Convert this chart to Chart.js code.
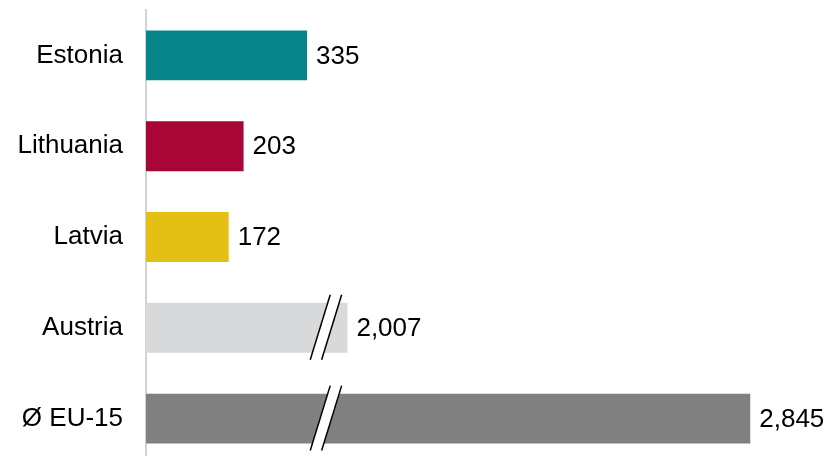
<!DOCTYPE html>
<html>
<head>
<meta charset="utf-8">
<script src="https://cdn.jsdelivr.net/npm/chart.js@4/dist/chart.umd.min.js"></script>
<style>
  html, body { margin: 0; padding: 0; background: #fff; overflow: hidden; }
  #wrap { width: 829px; height: 456px; overflow: hidden; position: relative; }
  canvas { display: block; }
</style>
</head>
<body>
<div id="wrap"><canvas id="c" width="829" height="464"></canvas></div>
<script>
// ---- data ----
const categories = ['Estonia', 'Lithuania', 'Latvia', 'Austria', 'Ø EU-15'];
const values = [335, 203, 172, 2007, 2845];
const barColors = ['#07868a', '#a70636', '#e4c014', '#d8d9db', '#808080'];
// broken axis: the range between breakStart and breakEnd is cut out
const breakStart = 374;
const breakEnd = 1962;

const gap = breakEnd - breakStart;
const toAxis = v => (v >= breakEnd ? v - gap : v);
const plotted = values.map(toAxis);

const FONT = '"Liberation Sans", Arial, sans-serif';

const valueLabels = {
  id: 'valueLabels',
  afterDatasetsDraw(chart) {
    const ctx = chart.ctx;
    const meta = chart.getDatasetMeta(0);
    ctx.save();
    ctx.font = '26px ' + FONT;
    ctx.fillStyle = '#000';
    ctx.textAlign = 'left';
    ctx.textBaseline = 'middle';
    meta.data.forEach((bar, i) => {
      ctx.fillText(values[i].toLocaleString('en-US'), bar.x + 9, bar.y + 1);
    });
    ctx.restore();
  }
};

const breakMarks = {
  id: 'breakMarks',
  afterDatasetsDraw(chart) {
    const ctx = chart.ctx;
    const meta = chart.getDatasetMeta(0);
    const xs = chart.scales.x;
    const cx = xs.getPixelForValue(breakStart);
    ctx.save();
    meta.data.forEach((bar, i) => {
      if (values[i] < breakEnd) return;
      const h = bar.height;
      const top = bar.y - h / 2 - 8;
      const bot = bar.y + h / 2 + 7;
      const slope = 20 / 65; // horizontal shift per vertical px
      const half = 5.7;
      const xAt = (y, off) => cx + off + (bar.y - y) * slope;
      // white gap
      ctx.beginPath();
      ctx.moveTo(xAt(bot, -half), bot);
      ctx.lineTo(xAt(top, -half), top);
      ctx.lineTo(xAt(top, half), top);
      ctx.lineTo(xAt(bot, half), bot);
      ctx.closePath();
      ctx.fillStyle = '#fff';
      ctx.fill();
      // two slanted lines
      ctx.strokeStyle = '#000';
      ctx.lineWidth = 1.5;
      [-half, half].forEach(off => {
        ctx.beginPath();
        ctx.moveTo(xAt(bot, off), bot);
        ctx.lineTo(xAt(top, off), top);
        ctx.stroke();
      });
    });
    ctx.restore();
  }
};

new Chart(document.getElementById('c'), {
  type: 'bar',
  data: {
    labels: categories,
    datasets: [{
      data: plotted,
      backgroundColor: barColors,
      borderWidth: 0,
      categoryPercentage: 1,
      barPercentage: 0.55
    }]
  },
  options: {
    indexAxis: 'y',
    responsive: false,
    animation: false,
    layout: { padding: { top: 10, right: 10, bottom: 0, left: 0 } },
    plugins: { legend: { display: false }, tooltip: { enabled: false } },
    scales: {
      x: {
        display: false,
        min: 0,
        max: 1400
      },
      y: {
        afterFit(scale) {
          scale.width = 146;
          scale.paddingTop = 0;
          scale.paddingBottom = 0;
        },
        grid: { display: false, drawTicks: false },
        border: { display: true, color: '#d3d3d3', width: 2 },
        ticks: {
          padding: 23,
          color: '#000',
          font: { family: FONT, size: 26 }
        }
      }
    }
  },
  plugins: [valueLabels, breakMarks]
});
</script>
</body>
</html>
